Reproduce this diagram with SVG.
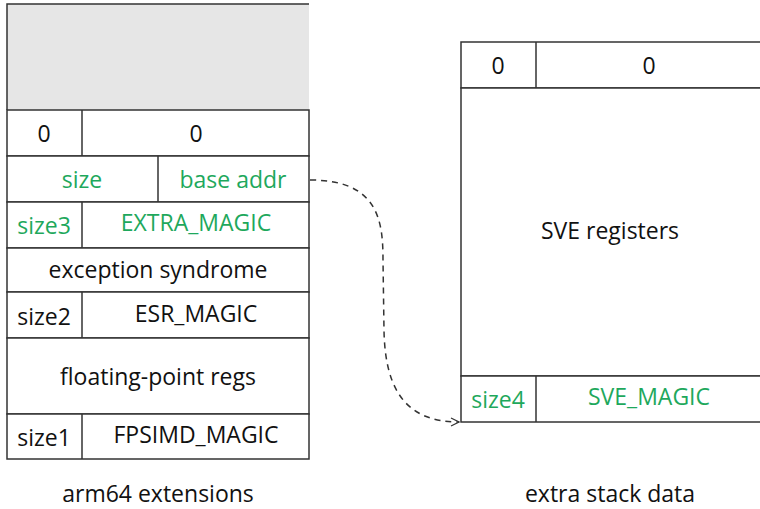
<svg xmlns="http://www.w3.org/2000/svg" width="760" height="509" viewBox="0 0 760 509">
<style>
text{font-family:"Open Sans","Liberation Sans",sans-serif;font-size:23px;fill:#111;text-anchor:middle;dominant-baseline:central}
.g{fill:#1ea85c}
.box{fill:#fff;stroke:#333;stroke-width:1.5}
.ln{stroke:#333;stroke-width:1.5;fill:none}
</style>
<defs>
<marker id="ah" viewBox="0 0 10 10" refX="9" refY="5" markerWidth="10" markerHeight="10" markerUnits="userSpaceOnUse" orient="auto">
<path d="M1,1 L9,5 L1,9" fill="none" stroke="#333" stroke-width="1.2"/>
</marker>
</defs>
<g id="left-stack">
<g id="gray">
<rect x="7" y="4" width="302" height="106" fill="#e6e6e6"/>
<path class="ln" d="M7,110 V4 H309"/>
</g>
<g id="row-zero">
<rect class="box" x="7" y="110" width="302" height="46"/>
<line class="ln" x1="82" y1="110" x2="82" y2="156"/>
<text x="44" y="133">0</text><text x="196" y="133">0</text>
</g>
<g id="row-size">
<rect class="box" x="7" y="156" width="302" height="46"/>
<line class="ln" x1="158" y1="156" x2="158" y2="202"/>
<text class="g" x="82" y="179">size</text><text class="g" x="233" y="179">base addr</text>
</g>
<g id="row-extra">
<rect class="box" x="7" y="202" width="302" height="46"/>
<line class="ln" x1="82" y1="202" x2="82" y2="248"/>
<text class="g" x="44" y="225">size3</text><text class="g" x="196" y="222">EXTRA_MAGIC</text>
</g>
<g id="row-esr-data">
<rect class="box" x="7" y="248" width="302" height="44"/>
<text x="158" y="269">exception syndrome</text>
</g>
<g id="row-esr">
<rect class="box" x="7" y="292" width="302" height="46"/>
<line class="ln" x1="82" y1="292" x2="82" y2="338"/>
<text x="44" y="316">size2</text><text x="196" y="313">ESR_MAGIC</text>
</g>
<g id="row-fp-data">
<rect class="box" x="7" y="338" width="302" height="76"/>
<text x="158" y="376">floating-point regs</text>
</g>
<g id="row-fp">
<rect class="box" x="7" y="414" width="302" height="45"/>
<line class="ln" x1="82" y1="414" x2="82" y2="459"/>
<text x="44" y="437">size1</text><text x="196" y="434">FPSIMD_MAGIC</text>
</g>
<text x="158" y="493">arm64 extensions</text>
</g>
<g id="right-stack">
<g id="r-zero">
<rect class="box" x="461" y="42" width="310" height="46"/>
<line class="ln" x1="536" y1="42" x2="536" y2="88"/>
<text x="498" y="65">0</text><text x="649" y="65">0</text>
</g>
<g id="r-sve">
<rect class="box" x="461" y="88" width="310" height="288"/>
<text x="610" y="230">SVE registers</text>
</g>
<g id="r-magic">
<rect class="box" x="461" y="376" width="310" height="46"/>
<line class="ln" x1="536" y1="376" x2="536" y2="422"/>
<text class="g" x="498" y="399">size4</text><text class="g" x="649" y="396">SVE_MAGIC</text>
</g>
<text x="610" y="493">extra stack data</text>
</g>
<g id="connectors">
<path class="ln" stroke-width="1.2" stroke-dasharray="6,5" d="M310,180 C378,180 383,220 383,260 L384,330 C385,395 410,422 459,422" marker-end="url(#ah)"/>
</g>
</svg>
